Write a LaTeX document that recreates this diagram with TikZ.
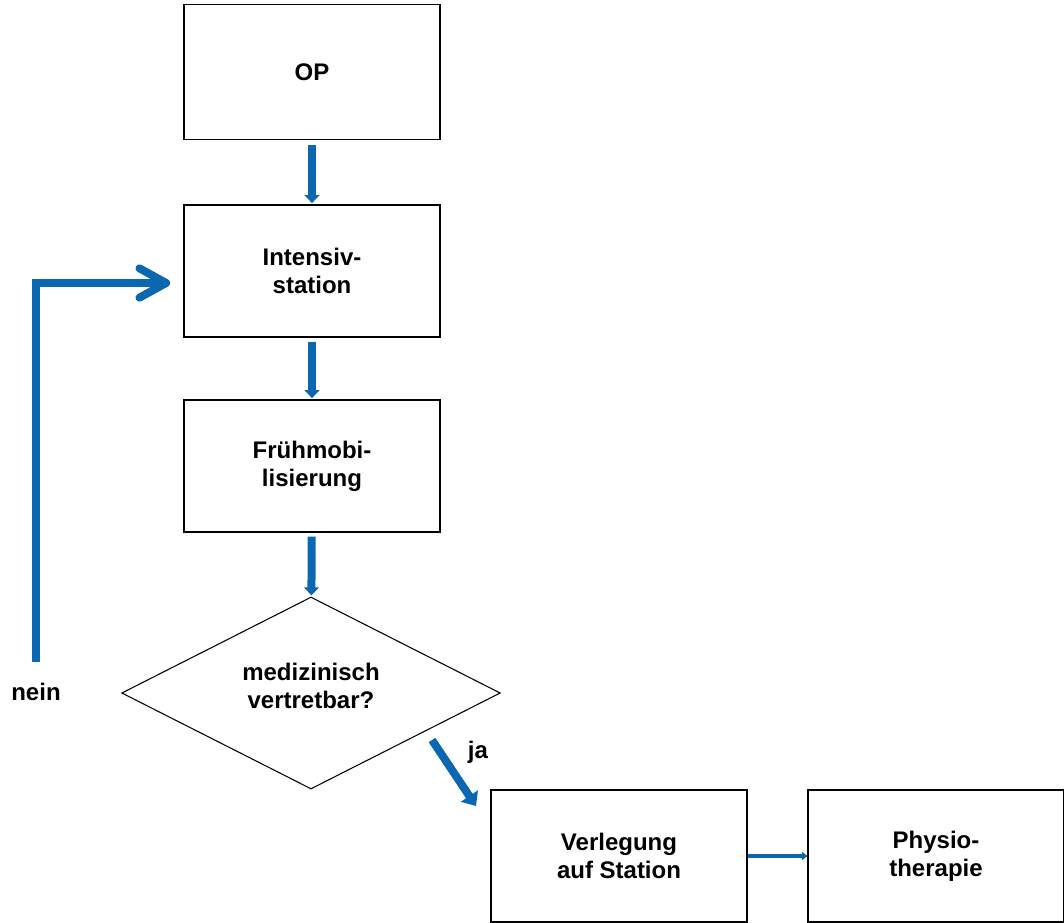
\documentclass[tikz,border=0pt]{standalone}
\usepackage{fontspec}
\setmainfont{Liberation Sans}
\usetikzlibrary{arrows.meta,calc,shapes.geometric}
\definecolor{flowBlue}{HTML}{0A67B0}

\begin{document}
\begin{tikzpicture}[x=0.75pt,y=-0.75pt,
    stepbox/.style={draw=black,line width=0.8pt,minimum width=192pt,
      minimum height=99pt,align=center,inner sep=4pt,
      font=\fontsize{18}{21}\selectfont\bfseries},
    askbox/.style={diamond,draw=black,line width=0.8pt,minimum width=284pt,
      minimum height=144pt,shape aspect=2,inner sep=0pt,align=center,
      font=\fontsize{18}{21}\selectfont\bfseries},
    flow/.style={draw=flowBlue,line width=6pt,
      -{Triangle[length=6pt,width=11pt]}},
    thinflow/.style={draw=flowBlue,line width=3pt,
      -{Triangle[length=4pt,width=6pt]}},
    lbl/.style={font=\fontsize{18}{21}\selectfont\bfseries}]
  \useasboundingbox (0,0) rectangle (1064,922);

  % boxes
  \node[stepbox,minimum height=101pt] (op) at (312,72) {OP};
  \node[stepbox] (icu) at (312,271) {Intensiv-\\station};
  \node[stepbox] (mob) at (312,466) {Frühmobi-\\lisierung};
  \node[askbox] (ask) at (311,693) {};
  \node[lbl,align=center] (askText) at (311,686) {medizinisch\\vertretbar?};
  \node[stepbox] (ward) at (619,856) {Verlegung\\auf Station};
  \node[stepbox] (phys) at (936,856) {Physio-\\therapie};

  % labels
  \node[lbl] (no) at (36,692) {nein};
  \node[lbl] (yes) at (478,752) {ja};

  % arrows
  \draw[flow,shorten <=4pt,shorten >=1pt] (op) -- (icu);
  \draw[flow,shorten <=3pt,shorten >=1pt] (icu) -- (mob);
  \draw[flow,shorten <=3pt,shorten >=1pt] (mob) -- (ask);

  \coordinate (backStart) at (36,662);
  \draw[draw=flowBlue,line width=6pt,line join=miter,
    -{Straight Barb[length=20pt,width=22pt,line cap=round,line join=round]},
    shorten >=10pt] (backStart) |- ([yshift=-9pt]icu.west);

  \coordinate (yesStart) at (432,740);
  \coordinate (yesEnd) at (476,806);
  \draw[flow,-{Triangle[length=9pt,width=15pt]}] (yesStart) -- (yesEnd);

  \draw[thinflow] (ward) -- (phys);
\end{tikzpicture}
\end{document}
